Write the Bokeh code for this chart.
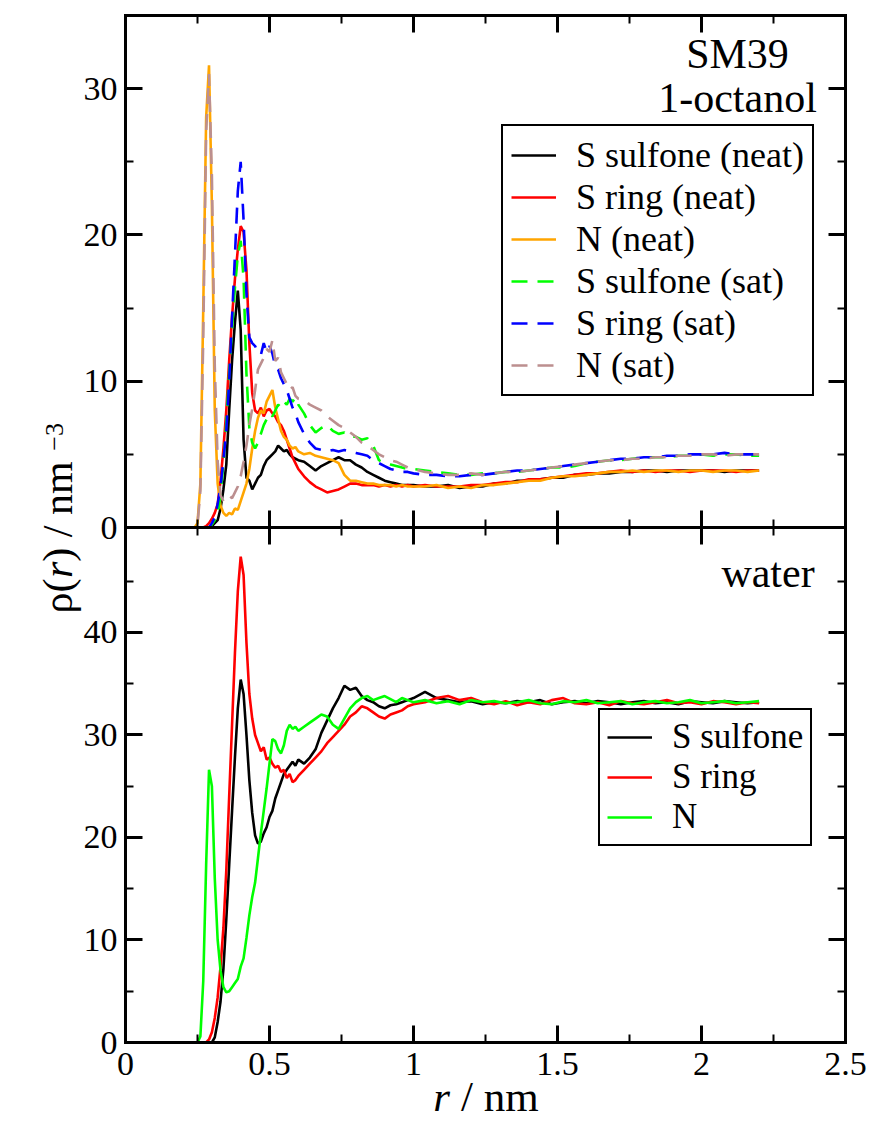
from bokeh.plotting import figure
from bokeh.models import (Range1d, LinearAxis, FixedTicker, Legend, LegendItem,
                          Label, NumeralTickFormatter)
from bokeh.embed import file_html
from bokeh.resources import INLINE

FONT = "Liberation Serif"

# ---------------- data ----------------
r_nm = [
    0.00, 0.24, 0.25, 0.26, 0.27, 0.28, 0.29, 0.30, 0.31, 0.32,
    0.33, 0.34, 0.35, 0.36, 0.37, 0.38, 0.39, 0.40, 0.41, 0.42,
    0.43, 0.44, 0.45, 0.46, 0.47, 0.48, 0.49, 0.50, 0.51, 0.52,
    0.53, 0.54, 0.55, 0.56, 0.57, 0.58, 0.59, 0.60, 0.62, 0.64,
    0.66, 0.68, 0.70, 0.72, 0.74, 0.76, 0.78, 0.80, 0.82, 0.84,
    0.86, 0.88, 0.90, 0.92, 0.94, 0.96, 0.98, 1.00, 1.04, 1.08,
    1.12, 1.16, 1.20, 1.24, 1.28, 1.32, 1.36, 1.40, 1.44, 1.48,
    1.52, 1.56, 1.60, 1.64, 1.68, 1.72, 1.76, 1.80, 1.84, 1.88,
    1.92, 1.96, 2.00, 2.04, 2.08, 2.12, 2.16, 2.20,
]

# 1-octanol panel
oct_ssulfone_neat = [
    0, 0, 0, 0, 0, 0, 0, 0.1, 0.3, 0.5,
    1.3, 2.6, 4.3, 8.0, 11.4, 14.0, 16.2, 13.5, 6.0, 3.4,
    3.2, 2.6, 3.0, 3.4, 3.6, 4.2, 4.6, 4.8, 5.0, 5.2,
    5.6, 5.4, 5.2, 5.3, 5.0, 4.8, 4.7, 4.6, 4.5, 4.2,
    3.9, 4.2, 4.4, 4.6, 4.8, 4.6, 4.6, 4.3, 4.1, 3.8,
    3.6, 3.4, 3.2, 3.1, 3.0, 2.9, 2.9, 2.9, 2.8, 2.8,
    2.9, 2.7, 2.8, 2.8, 3.0, 3.0, 3.2, 3.2, 3.3, 3.4,
    3.4, 3.6, 3.6, 3.7, 3.7, 3.8, 3.8, 3.9, 3.9, 3.8,
    3.9, 3.9, 3.9, 3.9, 3.8, 3.9, 3.9, 3.9,
]
oct_sring_neat = [
    0, 0, 0, 0, 0, 0.1, 0.3, 0.6, 1.0, 1.6,
    3.2, 5.4, 8.0, 11.4, 14.4, 17.0, 19.0, 20.6, 20.2, 17.6,
    12.6, 9.2, 8.0, 7.8, 8.2, 7.6, 8.0, 8.1, 7.8, 7.6,
    7.2, 7.0, 6.6, 6.0, 5.4, 4.8, 4.4, 4.0, 3.5, 3.1,
    2.8, 2.6, 2.4, 2.5, 2.6, 2.8, 3.0, 3.0, 2.9, 2.9,
    2.9, 2.8, 2.9, 2.8, 2.9, 2.8, 2.9, 2.8, 2.9, 2.8,
    2.8, 2.8, 2.9, 2.9, 3.0, 3.1, 3.1, 3.3, 3.3, 3.4,
    3.5, 3.6, 3.7, 3.7, 3.8, 3.9, 3.8, 3.9, 3.8, 3.9,
    3.9, 3.8, 3.9, 3.9, 3.9, 3.8, 3.9, 3.9,
]
oct_n_neat = [
    0, 0, 0.3, 3.0, 15.0, 28.0, 31.6, 22.0, 8.0, 3.0,
    1.5, 1.0, 0.8, 1.0, 0.9, 1.3, 1.2, 1.8, 2.4, 3.0,
    4.0, 5.4, 6.6, 7.5, 8.0, 7.8, 8.6, 9.0, 9.4, 8.2,
    7.4, 6.6, 6.2, 6.0, 5.6, 5.4, 5.5, 5.2, 5.0, 5.1,
    4.9, 4.8, 4.7, 4.6, 4.4, 3.6, 3.2, 3.2, 3.1, 3.0,
    3.0, 2.9, 2.9, 2.9, 2.8, 2.9, 2.8, 2.8, 2.8, 2.9,
    2.7, 2.8, 2.7, 2.9, 2.9, 3.0, 3.1, 3.2, 3.2, 3.4,
    3.5, 3.5, 3.6, 3.7, 3.8, 3.8, 3.9, 3.8, 3.9, 3.9,
    3.8, 3.9, 3.9, 3.8, 3.9, 3.9, 3.8, 3.9,
]
oct_ssulfone_sat = [
    0, 0, 0, 0, 0, 0, 0, 0.2, 0.5, 1.0,
    2.2, 4.4, 7.2, 10.6, 13.6, 16.4, 18.6, 19.6, 17.0, 10.5,
    6.8, 5.8, 5.4, 5.8, 6.4, 7.0, 7.4, 7.8, 7.6, 8.0,
    8.4, 8.2, 8.6, 8.4, 8.8, 8.6, 8.9, 8.4, 7.8, 7.0,
    6.5, 6.8, 7.0, 6.6, 6.4, 6.5, 6.2, 6.2, 6.0, 6.1,
    5.6, 4.6, 4.4, 4.3, 4.2, 4.1, 4.0, 4.0, 3.9, 3.8,
    3.7, 3.6, 3.6, 3.7, 3.7, 3.8, 3.8, 3.9, 4.0, 4.1,
    4.1, 4.2, 4.4, 4.5, 4.6, 4.6, 4.7, 4.8, 4.8, 4.8,
    4.9, 4.9, 5.0, 4.9, 5.0, 5.0, 4.9, 4.9,
]
oct_sring_sat = [
    0, 0, 0, 0, 0, 0, 0, 0.3, 0.7, 1.6,
    2.8, 4.6, 6.6, 10.0, 14.4, 18.6, 23.0, 25.0, 21.0, 16.0,
    13.0, 12.6, 12.4, 12.0, 11.8, 12.6, 12.0, 12.4, 11.9, 11.0,
    10.8, 10.2, 9.8, 9.4, 8.8, 8.2, 7.8, 7.2, 6.4, 5.8,
    5.4, 5.3, 5.2, 5.3, 5.2, 5.3, 5.2, 5.1, 5.0, 4.9,
    4.6, 4.4, 4.2, 4.0, 3.9, 3.8, 3.8, 3.7, 3.6, 3.6,
    3.5, 3.5, 3.6, 3.6, 3.7, 3.8, 3.9, 3.9, 4.0, 4.1,
    4.2, 4.3, 4.4, 4.5, 4.6, 4.7, 4.7, 4.8, 4.8, 4.9,
    4.9, 5.0, 5.0, 5.0, 5.1, 5.0, 5.0, 5.0,
]
oct_n_sat = [
    0, 0, 0.2, 2.5, 13.0, 27.0, 31.0, 24.0, 11.0, 4.5,
    2.2, 1.8, 2.0, 2.2, 2.0, 2.4, 2.8, 3.5, 4.5, 5.6,
    7.0, 8.1, 9.4, 10.8, 11.2, 11.6, 12.2, 12.0, 12.8, 11.4,
    11.6, 10.6, 10.2, 9.8, 9.4, 9.6, 9.0, 8.8, 8.7, 8.4,
    8.2, 8.0, 7.6, 7.3, 7.0, 6.8, 6.5, 6.2, 5.8, 5.6,
    5.3, 5.0, 4.8, 4.6, 4.5, 4.3, 4.1, 4.0, 3.8, 3.7,
    3.6, 3.6, 3.7, 3.6, 3.7, 3.8, 3.8, 3.9, 4.0, 4.1,
    4.2, 4.3, 4.4, 4.5, 4.6, 4.6, 4.7, 4.7, 4.8, 4.8,
    4.9, 4.9, 5.0, 5.0, 4.9, 5.0, 5.0, 5.0,
]

# water panel
wat_ssulfone = [
    0, 0, 0, 0, 0, 0, 0, 0, 0.5, 2.0,
    4.0, 7.2, 12.0, 17.3, 22.6, 27.8, 32.6, 35.4, 34.0, 30.0,
    25.6, 22.4, 20.2, 19.4, 19.6, 20.4, 21.0, 22.0, 22.6, 23.8,
    24.6, 25.4, 26.2, 26.6, 27.0, 27.4, 27.0, 27.6, 27.2, 27.8,
    28.6, 30.2, 31.4, 32.6, 33.6, 34.8, 34.4, 34.6, 33.8, 33.4,
    33.2, 32.8, 32.6, 32.9, 33.0, 33.2, 33.4, 33.6, 34.2, 33.6,
    33.4, 33.2, 33.3, 33.0, 33.2, 33.1, 33.3, 33.2, 33.4, 33.0,
    33.2, 33.3, 33.1, 33.3, 33.2, 33.0, 33.2, 33.3, 33.1, 33.2,
    33.0, 33.3, 33.2, 33.1, 33.3, 33.2, 33.1, 33.2,
]
wat_sring = [
    0, 0, 0, 0, 0, 0, 0.3, 1.0, 2.4, 4.4,
    7.4, 11.2, 16.8, 24.0, 31.0, 38.0, 44.0, 47.4, 45.6, 39.0,
    34.0, 31.6, 30.0, 29.2, 28.4, 28.8, 27.6, 27.8, 27.2, 26.8,
    27.0, 26.4, 26.6, 25.8, 26.2, 25.4, 25.6, 26.0, 26.6, 27.2,
    27.8, 28.4, 29.2, 29.8, 30.4, 31.0, 31.8, 32.2, 32.8, 32.6,
    32.2, 31.8, 31.6, 32.0, 32.2, 32.4, 32.8, 33.0, 33.2, 33.6,
    33.8, 33.4, 33.6, 33.2, 33.0, 33.3, 32.9, 33.2, 33.0, 33.4,
    33.6, 33.1, 33.0, 33.2, 32.9, 33.3, 33.1, 33.0, 33.2, 33.4,
    33.1, 33.2, 33.0, 33.3, 33.2, 33.0, 33.2, 33.1,
]
wat_n = [
    0, 0, 0, 0.6, 6.0, 17.3, 26.6, 25.0, 16.0, 10.0,
    7.0, 5.4, 4.9, 5.0, 5.4, 5.8, 6.2, 7.4, 8.2, 10.2,
    12.4, 14.2, 15.6, 18.0, 20.4, 22.6, 24.8, 27.2, 29.6, 29.4,
    28.6, 28.2, 29.0, 30.4, 31.0, 30.6, 30.8, 30.4, 30.8, 31.2,
    31.6, 32.0, 31.8, 31.0, 30.6, 31.6, 32.6, 33.2, 33.6, 33.8,
    33.4, 33.6, 33.8, 33.5, 33.2, 33.6, 33.4, 33.2, 33.4, 33.1,
    33.3, 33.0, 33.4, 33.2, 33.3, 33.1, 33.2, 33.4, 33.1, 33.0,
    33.3, 33.2, 33.4, 33.1, 33.2, 33.3, 33.0, 33.2, 33.3, 33.1,
    33.2, 33.4, 33.1, 33.2, 33.3, 33.1, 33.2, 33.3,
]

x_major = [0, 0.5, 1, 1.5, 2, 2.5]
x_minor = [0.25, 0.75, 1.25, 1.75, 2.25]
top_major = [0, 10, 20, 30]
top_minor = [5, 15, 25, 35]
bot_major = [0, 10, 20, 30, 40]
bot_minor = [5, 15, 25, 35, 45]

X_MAX = 2.5
TOP_MAX = 35.0
BOT_MAX = 50.24

# ---------------- geometry (canvas pixels) ----------------
W, H = 870, 1120
PX_X0 = 125.0                      # canvas x of r = 0
PX_PER_X = 288.0
PY_TOP0 = 527.0                    # canvas y of the upper panel's zero
PX_PER_TOP = 512.0 / TOP_MAX
PY_BOT0 = 1042.0                   # canvas y of the lower panel's zero
PX_PER_BOT = 515.0 / BOT_MAX

x_range = Range1d(-PX_X0 / PX_PER_X, (W - PX_X0) / PX_PER_X)
top_range = Range1d((PY_TOP0 - H) / PX_PER_TOP, PY_TOP0 / PX_PER_TOP)
bot_range = Range1d((PY_BOT0 - H) / PX_PER_BOT, PY_BOT0 / PX_PER_BOT)

p = figure(width=W, height=H, x_range=x_range, y_range=top_range,
           x_axis_location=None, y_axis_location=None,
           toolbar_location=None, output_backend="svg",
           min_border=0, min_border_left=0, min_border_right=0,
           min_border_top=0, min_border_bottom=0)
p.extra_y_ranges = {"bot": bot_range}
p.grid.visible = False
p.outline_line_color = None
p.background_fill_color = "white"
p.border_fill_color = "white"


def make_axis(side, ticks, minor, labels, fixed, bounds,
              y_range_name="default", both=False, formatter=None, standoff=8):
    ax = LinearAxis(ticker=FixedTicker(ticks=ticks, minor_ticks=minor),
                    y_range_name=y_range_name, fixed_location=fixed,
                    bounds=bounds)
    if formatter is not None:
        ax.formatter = formatter
    ax.axis_line_color = "black"
    ax.axis_line_width = 3
    ax.axis_line_cap = "square"
    ax.major_tick_line_width = 3
    ax.minor_tick_line_width = 2
    ax.major_tick_in = 17
    ax.major_tick_out = 17 if both else 0
    ax.minor_tick_in = 8
    ax.minor_tick_out = 8 if both else 0
    if labels:
        ax.major_label_text_font = FONT
        ax.major_label_text_font_size = "34px"
        ax.major_label_text_color = "black"
        ax.major_label_standoff = standoff
    else:
        ax.major_label_text_font_size = "0px"
        ax.major_label_text_color = None
        ax.major_label_standoff = 0
    p.add_layout(ax, side)
    return ax


xfmt = NumeralTickFormatter(format="0.[0]")
# horizontal axes: bottom of lower panel, shared boundary, top of upper panel
make_axis("below", x_major, x_minor, True, 0, (0, X_MAX), y_range_name="bot",
          formatter=xfmt, standoff=10)
make_axis("below", x_major, x_minor, False, 0, (0, X_MAX), both=True)
make_axis("above", x_major, x_minor, False, TOP_MAX, (0, X_MAX))
# vertical axes
make_axis("left", top_major, top_minor, True, 0, (0, TOP_MAX))
make_axis("left", bot_major, bot_minor, True, 0, (0, BOT_MAX), y_range_name="bot")
make_axis("right", top_major, top_minor, False, X_MAX, (0, TOP_MAX))
make_axis("right", bot_major, bot_minor, False, X_MAX, (0, BOT_MAX), y_range_name="bot")

# ---------------- curves ----------------
LW = 2.6
DASH = "16 10"
r1 = p.line(r_nm, oct_ssulfone_neat, line_color="black", line_width=LW)
r2 = p.line(r_nm, oct_sring_neat, line_color="#ff0000", line_width=LW)
r3 = p.line(r_nm, oct_n_neat, line_color="#ffa500", line_width=LW)
r4 = p.line(r_nm, oct_ssulfone_sat, line_color="#00ff00", line_width=LW, line_dash=DASH)
r5 = p.line(r_nm, oct_sring_sat, line_color="#0000ff", line_width=LW, line_dash=DASH)
r6 = p.line(r_nm, oct_n_sat, line_color="#bc8f8f", line_width=LW, line_dash=DASH)

w1 = p.line(r_nm, wat_ssulfone, line_color="black", line_width=LW, y_range_name="bot")
w2 = p.line(r_nm, wat_sring, line_color="#ff0000", line_width=LW, y_range_name="bot")
w3 = p.line(r_nm, wat_n, line_color="#00ff00", line_width=LW, y_range_name="bot")


def style_legend(lg, size, padding):
    lg.label_text_font = FONT
    lg.label_text_font_size = size
    lg.label_text_color = "black"
    lg.glyph_width = 45
    lg.glyph_height = 20
    lg.label_standoff = 20
    lg.padding = padding
    lg.spacing = 0
    lg.margin = 0
    lg.border_line_color = "black"
    lg.border_line_alpha = 1.0
    lg.border_line_width = 2.5
    lg.background_fill_color = "white"
    lg.background_fill_alpha = 1.0


leg_top = Legend(items=[
    LegendItem(label="S sulfone (neat)", renderers=[r1]),
    LegendItem(label="S ring (neat)", renderers=[r2]),
    LegendItem(label="N (neat)", renderers=[r3]),
    LegendItem(label="S sulfone (sat)", renderers=[r4]),
    LegendItem(label="S ring (sat)", renderers=[r5]),
    LegendItem(label="N (sat)", renderers=[r6]),
], location=(501, H - 396))
style_legend(leg_top, "36px", 8)
p.add_layout(leg_top, "center")

leg_bot = Legend(items=[
    LegendItem(label="S sulfone", renderers=[w1]),
    LegendItem(label="S ring", renderers=[w2]),
    LegendItem(label="N", renderers=[w3]),
], location=(598, H - 846))
style_legend(leg_bot, "35px", 7)
p.add_layout(leg_bot, "center")


# ---------------- texts ----------------
def add_text(text, x, y, size, style="normal", angle=0.0, align="left",
             y_range_name="default"):
    p.add_layout(Label(x=x, y=y, text=text, text_font=FONT,
                       text_font_size=size, text_font_style=style,
                       text_color="black", angle=angle, text_align=align,
                       text_baseline="alphabetic", y_range_name=y_range_name))


add_text("SM39", 2.125, 32.40, "42px", align="center")
add_text("1-octanol", 2.125, 29.35, "42px", align="center")
add_text("water", 2.231, 45.76, "42px", align="center", y_range_name="bot")

# x axis title: "r / nm" with italic r
add_text("r", 1.069, -5.23, "43px", style="italic", y_range_name="bot")
add_text("/ nm", 1.1647, -5.23, "43px", y_range_name="bot")

# y axis title: "ρ(r) / nm^-3", rotated
ROT = 1.5707963
add_text("ρ(", -0.2361, -5.88, "42px", angle=ROT)
add_text("r", -0.2361, -3.46, "42px", style="italic", angle=ROT)
add_text(") / nm", -0.2361, -2.34, "42px", angle=ROT)
add_text("−3", -0.2465, 5.25, "26px", angle=ROT)

open("out.html", "w").write(file_html(p, INLINE))
